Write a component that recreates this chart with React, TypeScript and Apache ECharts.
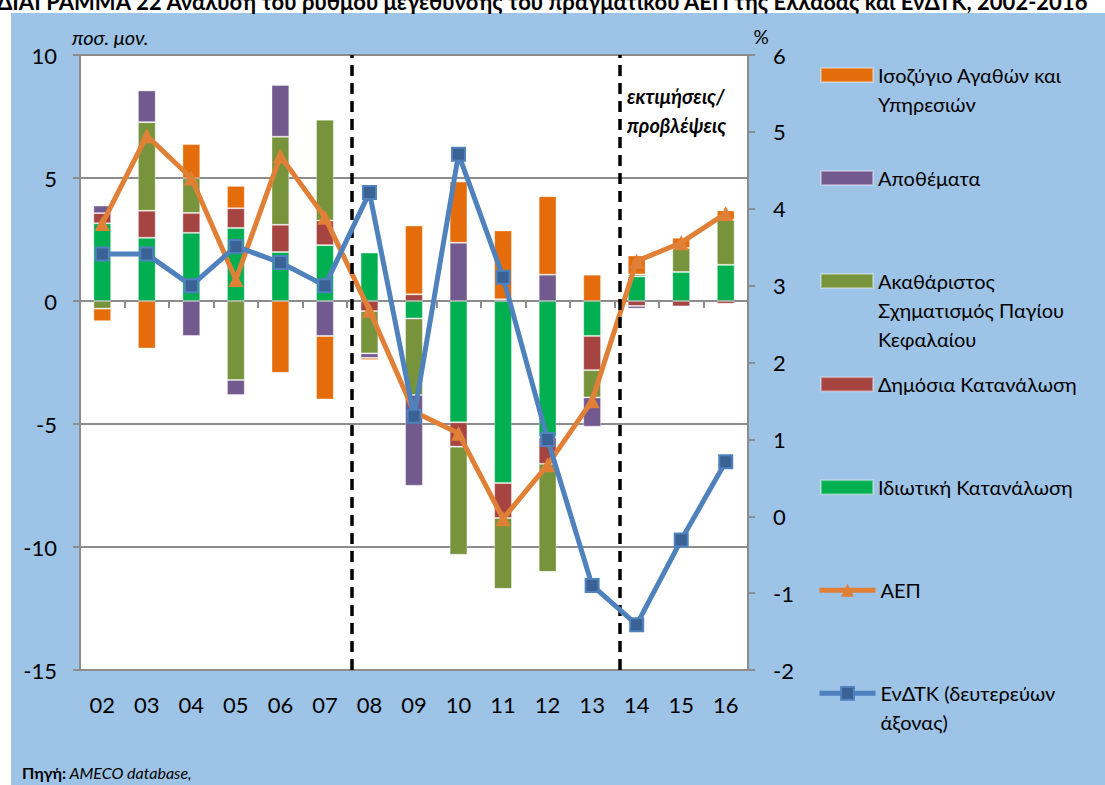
import React, { useEffect, useRef } from 'react';
import * as echarts from 'echarts';

// ---------- data ----------
const years = ['02', '03', '04', '05', '06', '07', '08', '09', '10', '11', '12', '13', '14', '15', '16'];
// contributions to real GDP growth (percentage points, left axis)
const privateCons = [3.16, 2.57, 2.77, 2.97, 1.99, 2.27, 1.97, -0.71, -4.93, -7.4, -5.54, -1.42, 1.0, 1.18, 1.47];
const publicCons = [0.41, 1.1, 0.81, 0.8, 1.11, 1.0, -0.41, 0.27, -0.99, -1.42, -1.08, -1.39, -0.2, -0.22, -0.11];
const gfcf = [-0.31, 3.6, 1.41, -3.21, 3.58, 4.1, -1.72, -3.11, -4.39, -2.88, -4.39, -1.11, 0.08, 0.98, 1.83];
const inventories = [0.31, 1.29, -1.42, -0.61, 2.1, -1.42, -0.18, -3.69, 2.37, 0.07, 1.07, -1.19, -0.11, 0, 0];
const netExports = [-0.51, -1.93, 1.39, 0.91, -2.92, -2.58, -0.09, 2.8, 2.49, 2.8, 3.19, 1.07, 0.77, 0.41, 0.38];
// real GDP growth (left axis)
const gdp = [3.15, 6.72, 5.0, 0.87, 5.9, 3.4, -0.38, -4.5, -5.38, -8.85, -6.66, -4.05, 1.62, 2.37, 3.56];
// HICP inflation (right axis, %)
const hicp = [3.41, 3.41, 3.0, 3.51, 3.3, 3.0, 4.21, 1.3, 4.71, 3.11, 1.0, -0.9, -1.41, -0.31, 0.71];

const leftAxis = { min: -15, max: 10, interval: 5 };
const rightAxis = { min: -2, max: 6, interval: 1 };
// dashed dividers, in category-band units (0 = left edge of "02", 15 = right edge of "16")
const dividers = [6.11, 12.13];

const titleText =
  'ΔΙΑΓΡΑΜΜΑ 22 Ανάλυση του ρυθμού μεγέθυνσης του πραγματικού ΑΕΠ της Ελλάδας και ΕνΔΤΚ, 2002-2016';

const N_NX = 'Ισοζύγιο Αγαθών και Υπηρεσιών';
const N_INV = 'Αποθέματα';
const N_GFCF = 'Ακαθάριστος Σχηματισμός Παγίου Κεφαλαίου';
const N_PUB = 'Δημόσια Κατανάλωση';
const N_PRIV = 'Ιδιωτική Κατανάλωση';
const N_GDP = 'ΑΕΠ';
const N_HICP = 'ΕνΔΤΚ (δευτερεύων άξονας)';

const legendLines: Record<string, string[]> = {
  [N_NX]: ['Ισοζύγιο Αγαθών και', 'Υπηρεσιών'],
  [N_INV]: ['Αποθέματα'],
  [N_GFCF]: ['Ακαθάριστος', 'Σχηματισμός Παγίου', 'Κεφαλαίου'],
  [N_PUB]: ['Δημόσια Κατανάλωση'],
  [N_PRIV]: ['Ιδιωτική Κατανάλωση'],
  [N_GDP]: ['ΑΕΠ'],
  [N_HICP]: ['ΕνΔΤΚ (δευτερεύων', 'άξονας)'],
};
const legendOrder = [N_NX, N_INV, N_GFCF, N_PUB, N_PRIV, N_GDP, N_HICP];

const FONT = 'Lato, "Open Sans", "Noto Sans", sans-serif';
const C = {
  nx: '#E46C0A',
  inv: '#735A8E',
  gfcf: '#77933C',
  pub: '#A64442',
  priv: '#00B050',
  gdp: '#E08037',
  hicp: '#4F81BD',
  hicpMarker: '#3A6294',
  grid: '#8C8C8C',
  bg: '#9DC3E6',
};

export default function App() {
  const ref = useRef<HTMLDivElement>(null);

  useEffect(() => {
    if (!ref.current) return;
    const chart = echarts.init(ref.current, null, { renderer: 'svg' });

    const LH = 29;
    const bar = (name: string, data: number[], color: string) => ({
      name,
      type: 'bar',
      stack: 'contrib',
      xAxisIndex: 0,
      yAxisIndex: 0,
      barWidth: '40%',
      data,
      itemStyle: { color, borderColor: 'rgba(255,255,255,0.35)', borderWidth: 1 },
      z: 2,
    });

    const legends = legendOrder.map((name, k) => {
      const lines = legendLines[name];
      const n = lines.length;
      const center = 75 + 103.05 * k;
      const isLine = k >= 5;
      return {
        data: [name],
        orient: 'vertical',
        left: isLine ? 817 : 820,
        top: center - ((2 * n - 1) * LH) / 2,
        padding: 0,
        itemGap: 0,
        itemWidth: isLine ? 56 : 52,
        itemHeight: isLine ? 16 : 14,
        icon: isLine ? undefined : 'rect',
        selectedMode: false,
        lineStyle: isLine ? { width: 5 } : undefined,
        formatter: () => '\n'.repeat(n - 1) + lines.join('\n'),
        textStyle: { fontFamily: FONT, fontSize: 20, color: '#000', lineHeight: LH },
      };
    });

    const option: any = {
      animation: false,
      backgroundColor: '#ffffff',
      textStyle: { fontFamily: FONT },
      grid: {
        left: 80,
        top: 55,
        width: 668,
        height: 615,
        show: true,
        backgroundColor: '#ffffff',
        borderWidth: 0,
        containLabel: false,
      },
      legend: legends,
      xAxis: [
        {
          type: 'category',
          data: years,
          position: 'bottom',
          boundaryGap: true,
          axisLine: { show: true, onZero: true, onZeroAxisIndex: 0, lineStyle: { color: C.grid, width: 2 } },
          axisTick: { show: true, interval: 0, length: 7, lineStyle: { color: C.grid, width: 2 } },
          axisLabel: { show: false, interval: 0 },
          splitLine: { show: false },
        },
        {
          type: 'category',
          data: years,
          position: 'bottom',
          boundaryGap: true,
          axisLine: { show: false, onZero: false },
          axisTick: { show: false },
          axisLabel: { show: true, interval: 0, fontSize: 22, color: '#000', fontFamily: FONT, margin: 23 },
          splitLine: { show: false },
        },
        {
          type: 'value',
          min: 0,
          max: 15,
          show: false,
          splitLine: { show: false },
        },
      ],
      yAxis: [
        {
          type: 'value',
          position: 'left',
          min: leftAxis.min,
          max: leftAxis.max,
          interval: leftAxis.interval,
          axisLine: { show: true, onZero: false, lineStyle: { color: C.grid, width: 2 } },
          axisTick: { show: true, length: 7, lineStyle: { color: C.grid, width: 2 } },
          axisLabel: { fontSize: 22, color: '#000', fontFamily: FONT, margin: 23 },
          splitLine: { show: true, lineStyle: { color: C.grid, width: 2 } },
        },
        {
          type: 'value',
          position: 'right',
          min: rightAxis.min,
          max: rightAxis.max,
          interval: rightAxis.interval,
          axisLine: { show: true, onZero: false, lineStyle: { color: C.grid, width: 2 } },
          axisTick: { show: true, length: 7, lineStyle: { color: C.grid, width: 2 } },
          axisLabel: { fontSize: 22, color: '#000', fontFamily: FONT, margin: 25 },
          splitLine: { show: false },
        },
      ],
      series: [
        bar(N_PRIV, privateCons, C.priv),
        bar(N_PUB, publicCons, C.pub),
        bar(N_GFCF, gfcf, C.gfcf),
        bar(N_INV, inventories, C.inv),
        bar(N_NX, netExports, C.nx),
        {
          name: N_GDP,
          type: 'line',
          xAxisIndex: 0,
          yAxisIndex: 0,
          data: gdp,
          symbol: 'triangle',
          symbolSize: 15,
          itemStyle: { color: C.gdp },
          lineStyle: { color: C.gdp, width: 5 },
          z: 4,
        },
        {
          name: N_HICP,
          type: 'line',
          xAxisIndex: 0,
          yAxisIndex: 1,
          data: hicp,
          symbol: 'rect',
          symbolSize: 13,
          itemStyle: { color: C.hicpMarker, borderColor: C.hicp, borderWidth: 2 },
          lineStyle: { color: C.hicp, width: 5 },
          z: 5,
        },
        {
          name: 'dividers',
          type: 'line',
          xAxisIndex: 2,
          yAxisIndex: 0,
          data: [],
          z: 3,
          markLine: {
            silent: true,
            symbol: 'none',
            label: { show: false },
            lineStyle: { color: '#000', width: 3.5, type: [11, 7] },
            data: dividers.map((v) => ({ xAxis: v })),
          },
        },
      ],
      graphic: [
        {
          type: 'rect',
          z: -100,
          silent: true,
          shape: { x: 11, y: 13, width: 1094, height: 772 },
          style: { fill: C.bg },
        },
        {
          type: 'text',
          x: -3,
          y: 1,
          style: {
            text: titleText,
            fontFamily: FONT,
            fontWeight: 'bold',
            fontSize: 22,
            fill: '#000',
            align: 'left',
            verticalAlign: 'middle',
          },
        },
        {
          type: 'text',
          x: 72,
          y: 37,
          style: { text: 'ποσ. μον.', fontFamily: FONT, fontStyle: 'italic', fontSize: 20, fill: '#000', verticalAlign: 'middle' },
        },
        {
          type: 'text',
          x: 761,
          y: 36,
          style: { text: '%', fontFamily: FONT, fontSize: 19, fill: '#000', align: 'center', verticalAlign: 'middle' },
        },
        {
          type: 'text',
          x: 627,
          y: 81,
          z: 10,
          style: {
            text: 'εκτιμήσεις/\nπροβλέψεις',
            fontFamily: FONT,
            fontStyle: 'italic',
            fontWeight: 'bold',
            fontSize: 20,
            lineHeight: 29,
            fill: '#000',
            verticalAlign: 'top',
          },
        },
        {
          type: 'text',
          x: 22,
          y: 772,
          style: {
            text: '{b|Πηγή:} {i|AMECO database,}',
            verticalAlign: 'middle',
            rich: {
              b: { fontFamily: FONT, fontWeight: 'bold', fontSize: 16, fill: '#000' },
              i: { fontFamily: FONT, fontStyle: 'italic', fontSize: 16, fill: '#000' },
            },
          },
        },
      ],
    };

    chart.setOption(option);
    return () => chart.dispose();
  }, []);

  return (
    <div
      ref={ref}
      style={{ position: 'absolute', left: 0, top: 0, width: 1105, height: 785 }}
    />
  );
}
